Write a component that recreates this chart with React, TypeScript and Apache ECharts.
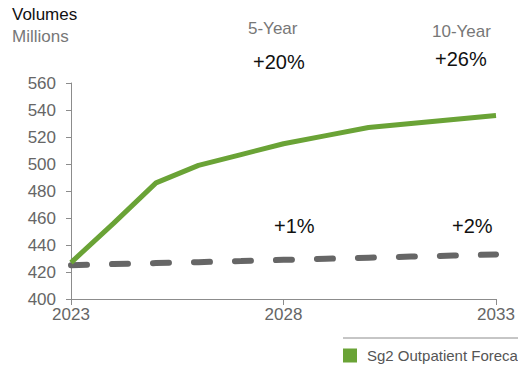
import React, { useEffect, useRef } from "react";
import * as echarts from "echarts";

const years = ["2023", "2024", "2025", "2026", "2027", "2028", "2029", "2030", "2031", "2032", "2033"];
const forecast = [427, 456, 486, 499, 507, 515, 521, 527, 530, 533, 536];
const baseline = [425, 425.9, 426.6, 427.3, 428.1, 429, 429.8, 430.6, 431.4, 432.2, 433];
const yTicks = { min: 400, max: 560, interval: 20 };
const fiveYear = { label: "5-Year", forecast: "+20%", baseline: "+1%" };
const tenYear = { label: "10-Year", forecast: "+26%", baseline: "+2%" };

const FONT = "Liberation Sans, Arial, sans-serif";

export default function App() {
  const ref = useRef<HTMLDivElement>(null);
  useEffect(() => {
    document.body.style.margin = "0";
    const chart = echarts.init(ref.current!, null, { renderer: "svg" });
    chart.setOption({
      animation: false,
      textStyle: { fontFamily: FONT },
      grid: { left: 71, right: 22, top: 83, bottom: 67 },
      xAxis: {
        type: "category",
        data: years,
        boundaryGap: false,
        axisLine: { lineStyle: { color: "#8c8c8c", width: 1 } },
        axisTick: { interval: 4, length: 6, lineStyle: { color: "#8c8c8c" } },
        axisLabel: { interval: 4, color: "#666", fontSize: 17, fontFamily: FONT, margin: 7 },
      },
      yAxis: {
        type: "value",
        min: yTicks.min,
        max: yTicks.max,
        interval: yTicks.interval,
        axisLine: { show: true, lineStyle: { color: "#8c8c8c", width: 1 } },
        axisTick: { show: true, length: 5, lineStyle: { color: "#8c8c8c" } },
        axisLabel: { color: "#666", fontSize: 17, fontFamily: FONT, margin: 15 },
        splitLine: { show: false },
      },
      legend: {
        left: 343,
        top: 348,
        data: ["Sg2 Outpatient Forecast"],
        icon: "rect",
        itemWidth: 14,
        itemHeight: 14,
        itemGap: 10,
        padding: 0,
        textStyle: { color: "#555", fontSize: 15, fontFamily: FONT, padding: [0, 0, 0, 5] },
      },
      graphic: [
        { type: "line", shape: { x1: 343, y1: 338, x2: 518, y2: 338 }, style: { stroke: "#8c8c8c", lineWidth: 1 } },
        { type: "text", left: 12, top: 6, style: { text: "Volumes", fill: "#111", fontSize: 17, fontFamily: FONT } },
        { type: "text", left: 12, top: 28, style: { text: "Millions", fill: "#777", fontSize: 17, fontFamily: FONT } },
        { type: "text", left: 248, top: 20, style: { text: fiveYear.label, fill: "#777", fontSize: 17, fontFamily: FONT } },
        { type: "text", left: 253, top: 52, style: { text: fiveYear.forecast, fill: "#111", fontSize: 20, fontFamily: FONT } },
        { type: "text", left: 432, top: 23, style: { text: tenYear.label, fill: "#777", fontSize: 17, fontFamily: FONT } },
        { type: "text", left: 435, top: 49, style: { text: tenYear.forecast, fill: "#111", fontSize: 20, fontFamily: FONT } },
        { type: "text", left: 274, top: 216, style: { text: fiveYear.baseline, fill: "#111", fontSize: 20, fontFamily: FONT } },
        { type: "text", left: 452, top: 216, style: { text: tenYear.baseline, fill: "#111", fontSize: 20, fontFamily: FONT } },
      ],
      series: [
        {
          name: "Baseline",
          type: "line",
          data: baseline,
          symbol: "none",
          lineStyle: { color: "#666", width: 6, type: [16, 25], cap: "round" },
          z: 2,
        },
        {
          name: "Sg2 Outpatient Forecast",
          type: "line",
          data: forecast,
          symbol: "none",
          itemStyle: { color: "#6aa336" },
          lineStyle: { color: "#6aa336", width: 5 },
          z: 3,
        },
      ],
    });
    return () => chart.dispose();
  }, []);
  return <div ref={ref} style={{ width: 518, height: 366 }} />;
}
